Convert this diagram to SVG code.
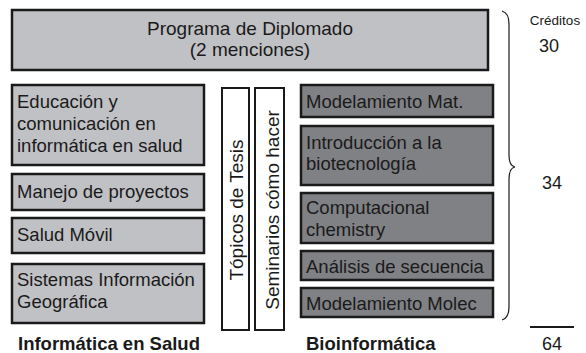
<svg xmlns="http://www.w3.org/2000/svg" width="586" height="353" viewBox="0 0 586 353">
<style>
text{font-family:"Liberation Sans",Arial,sans-serif;fill:#1a1a1a}
.l{fill:#c0c1c5;stroke:#1a1a1a;stroke-width:2.5}
.d{fill:#808185;stroke:#1a1a1a;stroke-width:2.5}
.w{fill:#fff;stroke:#1a1a1a;stroke-width:2}
.t{font-size:18.5px}
.v{font-size:19px}
.n{font-size:18px}
.b{font-size:18.5px;font-weight:bold}
</style>
<rect width="586" height="353" fill="#fff"/>
<g id="top"><rect class="l" x="12" y="10" width="476" height="60"/>
<text class="v" x="250" y="35" text-anchor="middle">Programa de Diplomado</text>
<text class="v" x="250" y="56" text-anchor="middle">(2 menciones)</text></g>
<g id="edu"><rect class="l" x="12" y="85" width="192" height="80"/>
<text class="t" x="17" y="108">Educación y</text><text class="t" x="17" y="130">comunicación en</text><text class="t" x="17" y="152">informática en salud</text></g>
<g id="manejo"><rect class="l" x="12" y="174" width="192" height="36"/><text class="t" x="17" y="198">Manejo de proyectos</text></g>
<g id="movil"><rect class="l" x="12" y="218" width="192" height="35"/><text class="t" x="17" y="241">Salud Móvil</text></g>
<g id="sig"><rect class="l" x="12" y="264" width="192" height="59"/>
<text class="t" x="17" y="286">Sistemas Información</text><text class="t" x="17" y="308">Geográfica</text></g>
<g id="tesis"><rect class="w" x="222" y="88" width="27" height="242"/>
<text class="v" transform="translate(243,210) rotate(-90)" text-anchor="middle">Tópicos de Tesis</text></g>
<g id="seminarios"><rect class="w" x="255" y="88" width="29" height="242"/>
<text class="v" transform="translate(279,210) rotate(-90)" text-anchor="middle">Seminarios cómo hacer</text></g>
<g id="modmat"><rect class="d" x="301" y="85" width="192" height="32"/><text class="t" x="306" y="108">Modelamiento Mat.</text></g>
<g id="intro"><rect class="d" x="301" y="126" width="192" height="59"/>
<text class="t" x="306" y="149">Introducción a la</text><text class="t" x="306" y="170">biotecnología</text></g>
<g id="comp"><rect class="d" x="301" y="193" width="192" height="50"/>
<text class="t" x="306" y="214">Computacional</text><text class="t" x="306" y="236">chemistry</text></g>
<g id="analisis"><rect class="d" x="301" y="251" width="192" height="29"/><text class="t" x="306" y="273">Análisis de secuencia</text></g>
<g id="molec"><rect class="d" x="301" y="288" width="192" height="29"/><text class="t" x="306" y="310">Modelamiento Molec</text></g>
<g id="connectors"><path d="M502,11 Q509,13 509,24 L509,155 Q509,166 515,167 Q509,168 509,179 L509,307 Q509,318 502,320" fill="none" stroke="#1a1a1a" stroke-width="1.2"/>
<line x1="530" y1="327" x2="574" y2="327" stroke="#1a1a1a" stroke-width="2"/></g>
<g id="labels">
<text x="555" y="25" font-size="13.5" text-anchor="middle">Créditos</text>
<text class="n" x="549" y="52" text-anchor="middle">30</text>
<text class="n" x="552" y="189" text-anchor="middle">34</text>
<text class="n" x="552" y="350" text-anchor="middle">64</text>
<text class="b" x="18" y="350">Informática en Salud</text>
<text class="b" x="306" y="350">Bioinformática</text></g>
</svg>
